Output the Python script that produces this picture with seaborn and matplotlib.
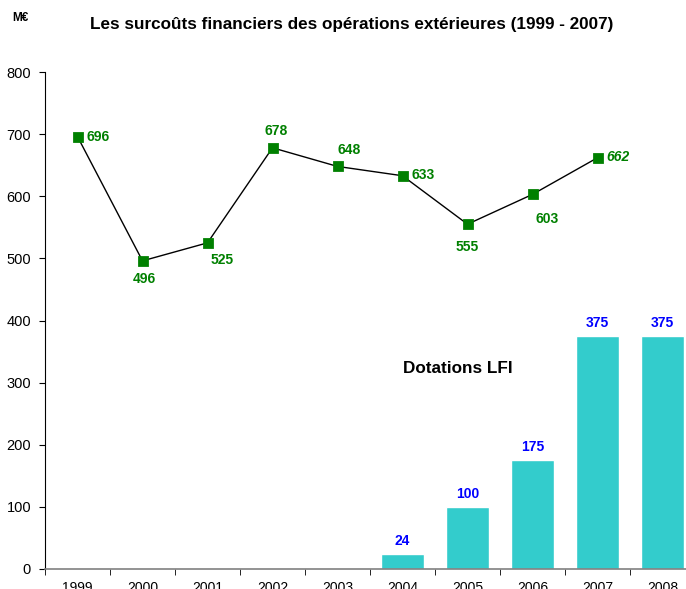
import pandas as pd
import matplotlib.pyplot as plt
import seaborn as sns

# Données (M€)
years = ['1999', '2000', '2001', '2002', '2003', '2004', '2005', '2006', '2007', '2008']
surcouts_years = ['1999', '2000', '2001', '2002', '2003', '2004', '2005', '2006', '2007']
surcouts = [696, 496, 525, 678, 648, 633, 555, 603, 662]
lfi_years = ['2004', '2005', '2006', '2007', '2008']
lfi = [24, 100, 175, 375, 375]

sns.set_style('white')
plt.rcParams['font.family'] = ['Liberation Sans', 'DejaVu Sans']
plt.rcParams['text.color'] = 'black'
plt.rcParams['xtick.color'] = 'black'
plt.rcParams['ytick.color'] = 'black'

fig = plt.figure(figsize=(6.86, 5.89), dpi=100)
ax = fig.add_axes([45 / 686, 20 / 589, 650 / 686, 497 / 589])

bars = pd.DataFrame({'year': lfi_years, 'val': lfi})
sns.barplot(data=bars, x='year', y='val', order=years, color='#33CCCC',
            saturation=1, width=0.66, ax=ax)

pos = [years.index(y) for y in surcouts_years]
line = pd.DataFrame({'x': pos, 'val': surcouts})
sns.lineplot(data=line, x='x', y='val', color='black', linewidth=1, ax=ax)
sns.scatterplot(data=line, x='x', y='val', marker='s', s=50, color='#008000',
                edgecolor='#008000', zorder=5, ax=ax)

# étiquettes de la courbe (décalages en pixels)
offsets = [(9, 0, 'left'), (2, -18, 'center'), (15, -17, 'center'),
           (4, 17, 'center'), (12, 16, 'center'), (9, 1, 'left'),
           (0, -23, 'center'), (15, -25, 'center'), (9, 1, 'left')]
for i, (x, v) in enumerate(zip(pos, surcouts)):
    dx, dy, ha = offsets[i]
    ax.annotate(str(v), (x, v), xytext=(dx, dy), textcoords='offset pixels',
                ha=ha, va='center', color='#008000', fontsize=10, fontweight='bold',
                style='italic' if i == len(surcouts) - 1 else 'normal')

for y, v in zip(lfi_years, lfi):
    ax.annotate(str(v), (years.index(y), v), xytext=(0, 6), textcoords='offset pixels',
                ha='center', va='bottom', color='#0000FF', fontsize=10, fontweight='bold')

ax.text(5.85, 323, 'Dotations LFI', ha='center', va='center', fontsize=12.3, fontweight='bold')

ax.set_xlim(-0.5, 9.5)
ax.set_ylim(0, 800)
ax.set_yticks(range(0, 801, 100))
ax.set_xlabel('')
ax.set_ylabel('')
ax.set_xticks(range(len(years)))
ax.set_xticklabels(years)
ax.set_xticks([i - 0.5 for i in range(len(years) + 1)], minor=True)
ax.tick_params(axis='x', which='major', length=0, labelsize=10, pad=9)
ax.tick_params(axis='x', which='minor', length=4, color='black', bottom=True)
ax.tick_params(axis='y', length=4, color='black', left=True, labelsize=10.5, pad=6)
for s in ['top', 'right']:
    ax.spines[s].set_visible(False)
ax.spines['left'].set_color('black')
ax.spines['bottom'].set_color('#808080')
ax.spines['bottom'].set_linewidth(1.2)

fig.text(352 / 686, 1 - 24 / 589, 'Les surcoûts financiers des opérations extérieures (1999 - 2007)',
         ha='center', va='center', fontsize=12.3, fontweight='bold')
fig.text(12 / 686, 1 - 18 / 589, 'M€', ha='left', va='center', fontsize=8.5, fontweight='bold')

fig.savefig('out.png', dpi=100)
